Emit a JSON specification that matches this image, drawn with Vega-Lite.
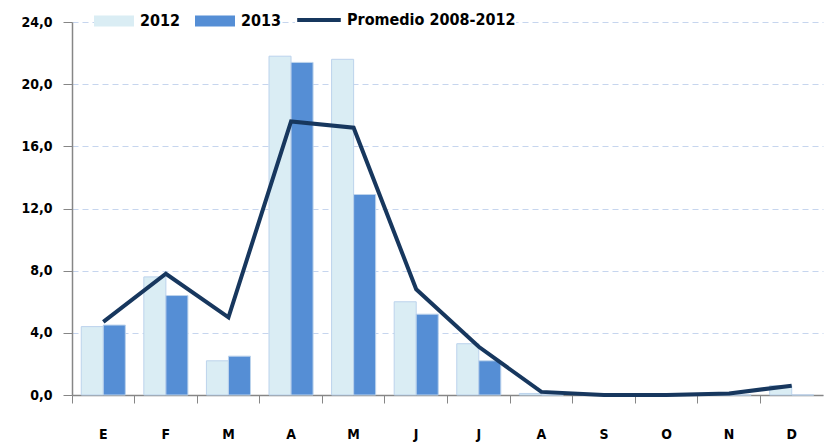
{
  "$schema": "https://vega.github.io/schema/vega-lite/v6.json",
  "width": 751,
  "height": 373,
  "autosize": "none",
  "padding": {"left": 72, "top": 22, "right": 4, "bottom": 47},
  "background": "white",
  "config": {
    "view": {"stroke": null},
    "font": "DejaVu Sans Condensed",
    "axis": {"labelFont": "DejaVu Sans Condensed", "labelFontWeight": "bold", "labelColor": "black", "labelFontSize": 14},
    "legend": {"labelFont": "DejaVu Sans Condensed", "labelFontWeight": "bold", "labelColor": "black", "labelFontSize": 16, "labelLimit": 400}
  },
  "datasets": {
    "bars": [
      {"mes": "Ene", "serie": "2012", "valor": 4.4}, {"mes": "Ene", "serie": "2013", "valor": 4.5},
      {"mes": "Feb", "serie": "2012", "valor": 7.6}, {"mes": "Feb", "serie": "2013", "valor": 6.4},
      {"mes": "Mar", "serie": "2012", "valor": 2.2}, {"mes": "Mar", "serie": "2013", "valor": 2.5},
      {"mes": "Abr", "serie": "2012", "valor": 21.8}, {"mes": "Abr", "serie": "2013", "valor": 21.4},
      {"mes": "May", "serie": "2012", "valor": 21.6}, {"mes": "May", "serie": "2013", "valor": 12.9},
      {"mes": "Jun", "serie": "2012", "valor": 6.0}, {"mes": "Jun", "serie": "2013", "valor": 5.2},
      {"mes": "Jul", "serie": "2012", "valor": 3.3}, {"mes": "Jul", "serie": "2013", "valor": 2.2},
      {"mes": "Ago", "serie": "2012", "valor": 0.1}, {"mes": "Ago", "serie": "2013", "valor": 0},
      {"mes": "Sep", "serie": "2012", "valor": 0}, {"mes": "Sep", "serie": "2013", "valor": 0},
      {"mes": "Oct", "serie": "2012", "valor": 0}, {"mes": "Oct", "serie": "2013", "valor": 0},
      {"mes": "Nov", "serie": "2012", "valor": 0}, {"mes": "Nov", "serie": "2013", "valor": 0},
      {"mes": "Dic", "serie": "2012", "valor": 0.6}, {"mes": "Dic", "serie": "2013", "valor": 0}
    ],
    "prom": [
      {"mes": "Ene", "serie": "Promedio 2008-2012", "valor": 4.7},
      {"mes": "Feb", "serie": "Promedio 2008-2012", "valor": 7.8},
      {"mes": "Mar", "serie": "Promedio 2008-2012", "valor": 5.0},
      {"mes": "Abr", "serie": "Promedio 2008-2012", "valor": 17.6},
      {"mes": "May", "serie": "Promedio 2008-2012", "valor": 17.2},
      {"mes": "Jun", "serie": "Promedio 2008-2012", "valor": 6.8},
      {"mes": "Jul", "serie": "Promedio 2008-2012", "valor": 3.1},
      {"mes": "Ago", "serie": "Promedio 2008-2012", "valor": 0.2},
      {"mes": "Sep", "serie": "Promedio 2008-2012", "valor": 0.0},
      {"mes": "Oct", "serie": "Promedio 2008-2012", "valor": 0.0},
      {"mes": "Nov", "serie": "Promedio 2008-2012", "valor": 0.1},
      {"mes": "Dic", "serie": "Promedio 2008-2012", "valor": 0.6}
    ]
  },
  "encoding": {
    "x": {
      "field": "mes", "type": "nominal",
      "scale": {"domain": ["Ene","Feb","Mar","Abr","May","Jun","Jul","Ago","Sep","Oct","Nov","Dic"], "paddingInner": 0, "paddingOuter": 0},
      "axis": {"title": null, "labelAngle": 0, "labelExpr": "slice(datum.label, 0, 1)", "bandPosition": 0, "tickSize": 8, "tickColor": "#868686", "domainColor": "#868686", "domainWidth": 1.5, "labelPadding": 24, "grid": false}
    },
    "y": {
      "field": "valor", "type": "quantitative",
      "scale": {"domain": [0, 24], "nice": false},
      "axis": {"title": null, "values": [0,4,8,12,16,20,24], "labelExpr": "replace(format(datum.value, '.1f'), '.', ',')", "tickSize": 9, "tickColor": "#868686", "domainColor": "#868686", "domainWidth": 1.5, "labelPadding": 11, "grid": true, "gridColor": "#c6d5ee", "gridDash": [6, 4], "gridWidth": 1.2}
    }
  },
  "layer": [
    {
      "data": {"name": "bars"},
      "mark": {"type": "bar", "stroke": "#bcd3ec", "strokeWidth": 1},
      "encoding": {
        "xOffset": {"field": "serie", "type": "nominal", "scale": {"paddingInner": 0, "paddingOuter": 0.42}},
        "color": {
          "field": "serie", "type": "nominal",
          "scale": {"domain": ["2012", "2013"], "range": ["#daedf4", "#558ed5"]},
          "legend": {"title": null, "orient": "none", "direction": "horizontal", "legendX": 32, "legendY": -11, "symbolType": "M-2,-0.55H2V0.55H-2Z", "symbolSize": 400, "symbolStrokeWidth": 0, "symbolOpacity": 1, "labelOffset": 16, "columnPadding": 14, "fillColor": "white", "padding": 0}
        }
      }
    },
    {
      "data": {"name": "prom"},
      "mark": {"type": "line", "strokeWidth": 4, "strokeJoin": "miter"},
      "encoding": {
        "stroke": {
          "field": "serie", "type": "nominal",
          "scale": {"range": ["#17375e"]},
          "legend": {"title": null, "orient": "none", "legendX": 223, "legendY": -26, "symbolType": "stroke", "symbolSize": 1900, "symbolStrokeWidth": 4, "labelOffset": 4, "fillColor": "white", "padding": 0}
        }
      }
    }
  ]
}
